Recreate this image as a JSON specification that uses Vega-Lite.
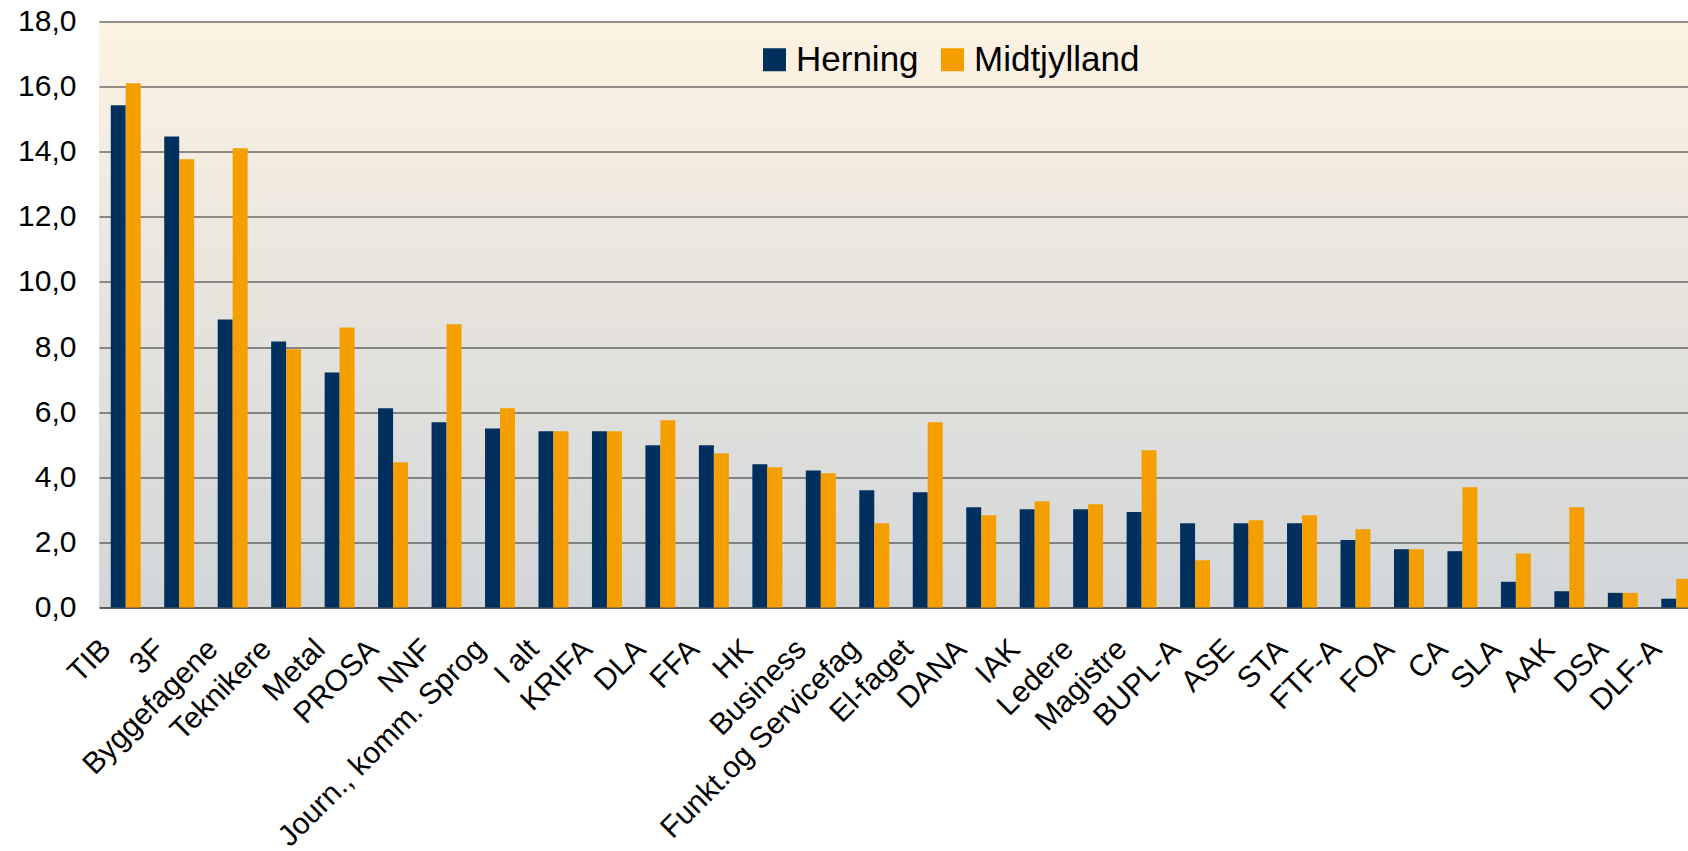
{
  "$schema": "https://vega.github.io/schema/vega-lite/v6.json",
  "width": 1589,
  "height": 586,
  "autosize": {"type": "none"},
  "padding": {"left": 99, "top": 21.5, "right": 0, "bottom": 243.5},
  "background": "white",
  "data": {
    "values": [
      {"cat": "TIB", "region": "Herning", "value": 15.43},
      {"cat": "TIB", "region": "Midtjylland", "value": 16.10},
      {"cat": "3F", "region": "Herning", "value": 14.47},
      {"cat": "3F", "region": "Midtjylland", "value": 13.77},
      {"cat": "Byggefagene", "region": "Herning", "value": 8.85},
      {"cat": "Byggefagene", "region": "Midtjylland", "value": 14.11},
      {"cat": "Teknikere", "region": "Herning", "value": 8.17},
      {"cat": "Teknikere", "region": "Midtjylland", "value": 7.93},
      {"cat": "Metal", "region": "Herning", "value": 7.22},
      {"cat": "Metal", "region": "Midtjylland", "value": 8.60},
      {"cat": "PROSA", "region": "Herning", "value": 6.12},
      {"cat": "PROSA", "region": "Midtjylland", "value": 4.46},
      {"cat": "NNF", "region": "Herning", "value": 5.69},
      {"cat": "NNF", "region": "Midtjylland", "value": 8.70},
      {"cat": "Journ., komm. Sprog", "region": "Herning", "value": 5.50},
      {"cat": "Journ., komm. Sprog", "region": "Midtjylland", "value": 6.12},
      {"cat": "I alt", "region": "Herning", "value": 5.41},
      {"cat": "I alt", "region": "Midtjylland", "value": 5.41},
      {"cat": "KRIFA", "region": "Herning", "value": 5.41},
      {"cat": "KRIFA", "region": "Midtjylland", "value": 5.41},
      {"cat": "DLA", "region": "Herning", "value": 4.98},
      {"cat": "DLA", "region": "Midtjylland", "value": 5.75},
      {"cat": "FFA", "region": "Herning", "value": 4.98},
      {"cat": "FFA", "region": "Midtjylland", "value": 4.74},
      {"cat": "HK", "region": "Herning", "value": 4.40},
      {"cat": "HK", "region": "Midtjylland", "value": 4.31},
      {"cat": "Business", "region": "Herning", "value": 4.21},
      {"cat": "Business", "region": "Midtjylland", "value": 4.12},
      {"cat": "Funkt.og Servicefag", "region": "Herning", "value": 3.60},
      {"cat": "Funkt.og Servicefag", "region": "Midtjylland", "value": 2.59},
      {"cat": "El-faget", "region": "Herning", "value": 3.54},
      {"cat": "El-faget", "region": "Midtjylland", "value": 5.69},
      {"cat": "DANA", "region": "Herning", "value": 3.08},
      {"cat": "DANA", "region": "Midtjylland", "value": 2.83},
      {"cat": "IAK", "region": "Herning", "value": 3.02},
      {"cat": "IAK", "region": "Midtjylland", "value": 3.26},
      {"cat": "Ledere", "region": "Herning", "value": 3.02},
      {"cat": "Ledere", "region": "Midtjylland", "value": 3.17},
      {"cat": "Magistre", "region": "Herning", "value": 2.93},
      {"cat": "Magistre", "region": "Midtjylland", "value": 4.83},
      {"cat": "BUPL-A", "region": "Herning", "value": 2.59},
      {"cat": "BUPL-A", "region": "Midtjylland", "value": 1.45},
      {"cat": "ASE", "region": "Herning", "value": 2.59},
      {"cat": "ASE", "region": "Midtjylland", "value": 2.68},
      {"cat": "STA", "region": "Herning", "value": 2.59},
      {"cat": "STA", "region": "Midtjylland", "value": 2.83},
      {"cat": "FTF-A", "region": "Herning", "value": 2.07},
      {"cat": "FTF-A", "region": "Midtjylland", "value": 2.40},
      {"cat": "FOA", "region": "Herning", "value": 1.79},
      {"cat": "FOA", "region": "Midtjylland", "value": 1.79},
      {"cat": "CA", "region": "Herning", "value": 1.73},
      {"cat": "CA", "region": "Midtjylland", "value": 3.69},
      {"cat": "SLA", "region": "Herning", "value": 0.79},
      {"cat": "SLA", "region": "Midtjylland", "value": 1.66},
      {"cat": "AAK", "region": "Herning", "value": 0.50},
      {"cat": "AAK", "region": "Midtjylland", "value": 3.08},
      {"cat": "DSA", "region": "Herning", "value": 0.45},
      {"cat": "DSA", "region": "Midtjylland", "value": 0.45},
      {"cat": "DLF-A", "region": "Herning", "value": 0.27},
      {"cat": "DLF-A", "region": "Midtjylland", "value": 0.88}
    ]
  },
  "mark": {"type": "bar"},
  "encoding": {
    "x": {
      "field": "cat",
      "type": "nominal",
      "sort": null,
      "scale": {"range": [0, 1604], "paddingInner": 0.44, "paddingOuter": 0.22},
      "axis": {
        "title": null,
        "labelAngle": -45,
        "labelAlign": "right",
        "labelBaseline": "alphabetic",
        "labelOffset": -13,
        "labelPadding": 43,
        "ticks": false,
        "domain": true,
        "domainColor": "#2a2a2a",
        "domainWidth": 1,
        "labelFont": "Liberation Sans",
        "labelFontSize": 30,
        "labelColor": "#000000",
        "labelLimit": 0
      }
    },
    "xOffset": {
      "field": "region",
      "type": "nominal",
      "sort": ["Herning", "Midtjylland"],
      "scale": {"paddingInner": 0, "paddingOuter": 0}
    },
    "y": {
      "field": "value",
      "type": "quantitative",
      "scale": {"domain": [0, 18], "nice": false, "zero": true},
      "axis": {
        "title": null,
        "values": [0, 2, 4, 6, 8, 10, 12, 14, 16, 18],
        "labelExpr": "replace(format(datum.value, '.1f'), '.', ',')",
        "grid": true,
        "gridColor": "#2a2a2a",
        "gridWidth": 1,
        "gridOpacity": 1,
        "domain": false,
        "ticks": false,
        "labelPadding": 23,
        "labelFont": "Liberation Sans",
        "labelFontSize": 30,
        "labelColor": "#000000"
      }
    },
    "color": {
      "field": "region",
      "type": "nominal",
      "scale": {"domain": ["Herning", "Midtjylland"], "range": ["#01305F", "#F49E00"]},
      "legend": {
        "title": null,
        "orient": "none",
        "legendX": 658,
        "legendY": 20.5,
        "direction": "horizontal",
        "symbolType": "square",
        "symbolSize": 529,
        "symbolStrokeWidth": 0,
        "symbolOpacity": 1,
        "labelFont": "Liberation Sans",
        "labelFontSize": 35,
        "labelColor": "#000000",
        "labelLimit": 500,
        "labelOffset": 4,
        "columnPadding": 16,
        "padding": 0
      }
    }
  },
  "config": {
    "view": {
      "stroke": null,
      "fill": {
        "gradient": "linear",
        "x1": 0, "y1": 0, "x2": 0, "y2": 1,
        "stops": [
          {"offset": 0, "color": "#FDF3E3"},
          {"offset": 0.5, "color": "#E6E3DD"},
          {"offset": 1, "color": "#D2D6D9"}
        ]
      }
    }
  }
}
